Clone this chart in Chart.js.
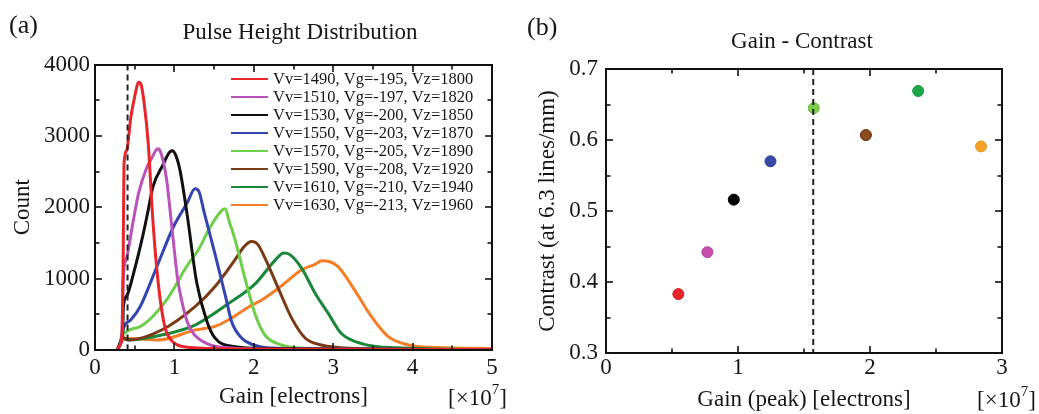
<!DOCTYPE html>
<html>
<head>
<meta charset="utf-8">
<script src="https://cdn.jsdelivr.net/npm/chart.js@4/dist/chart.umd.min.js"></script>
<style>
  html,body{margin:0;padding:0;background:#fff;}
  #wrap{position:relative;width:1039px;height:414px;overflow:hidden;}
  #pa{position:absolute;left:0;top:0;}
  #pb{position:absolute;left:520px;top:0;}
</style>
</head>
<body>
<div id="wrap">
  <canvas id="pa" width="520" height="414"></canvas>
  <canvas id="pb" width="519" height="414"></canvas>
</div>
<script>
// ---- (a) pulse height distribution, gain in units of 1e7 electrons ----
const runLabels=['Vv=1490, Vg=-195, Vz=1800','Vv=1510, Vg=-197, Vz=1820','Vv=1530, Vg=-200, Vz=1850','Vv=1550, Vg=-203, Vz=1870',
  'Vv=1570, Vg=-205, Vz=1890','Vv=1590, Vg=-208, Vz=1920','Vv=1610, Vg=-210, Vz=1940','Vv=1630, Vg=-213, Vz=1960'];
const phd1490=[[0.28,0],[0.31,60],[0.34,200],[0.355,1300],[0.365,2600],[0.40,2800],[0.45,3250],[0.50,3550],[0.55,3750],[0.58,3720],[0.62,3450],[0.67,2900],[0.73,1800],[0.80,900],[0.88,320],[0.95,150],[1.03,75],[1.2,35],[1.5,20],[2.5,10],[5,5]];
const phd1510=[[0.28,0],[0.31,60],[0.34,250],[0.355,1000],[0.40,1300],[0.48,1800],[0.55,2200],[0.65,2550],[0.72,2700],[0.79,2820],[0.83,2760],[0.90,2400],[0.97,1700],[1.04,1000],[1.09,700],[1.16,400],[1.24,230],[1.41,90],[1.74,25],[2.5,10],[5,5]];
const phd1530=[[0.28,0],[0.31,80],[0.35,300],[0.357,600],[0.40,760],[0.48,1050],[0.61,1640],[0.67,1960],[0.73,2290],[0.84,2560],[0.97,2790],[1.02,2720],[1.07,2520],[1.16,1900],[1.28,950],[1.41,400],[1.51,170],[1.74,50],[2.2,20],[5,5]];
const phd1550=[[0.28,0],[0.31,80],[0.35,250],[0.357,300],[0.45,420],[0.57,610],[0.78,1170],[0.99,1730],[1.16,2060],[1.26,2260],[1.31,2220],[1.37,1950],[1.51,1350],[1.64,770],[1.72,400],[1.85,165],[2.0,70],[2.16,30],[3,10],[5,5]];
const phd1570=[[0.28,0],[0.31,70],[0.35,210],[0.57,330],[0.90,700],[1.16,1180],[1.30,1400],[1.45,1720],[1.60,1960],[1.64,1980],[1.69,1800],[1.76,1560],[1.89,1000],[2.02,490],[2.14,210],[2.35,70],[2.6,25],[5,5]];
const phd1590=[[0.28,0],[0.31,70],[0.35,180],[0.42,140],[0.84,280],[1.26,607],[1.51,887],[1.76,1260],[1.88,1450],[1.97,1520],[2.05,1480],[2.14,1290],[2.31,860],[2.48,440],[2.65,165],[2.85,70],[3.2,25],[5,5]];
const phd1610=[[0.28,0],[0.31,60],[0.35,160],[0.42,140],[0.84,210],[1.26,350],[1.68,650],[2.02,930],[2.27,1260],[2.38,1360],[2.45,1340],[2.6,1150],[2.77,800],[2.94,510],[3.1,235],[3.36,90],[3.8,30],[5,5]];
const phd1630=[[0.28,0],[0.31,50],[0.35,150],[0.42,160],[0.8,140],[1.26,280],[1.51,330],[1.68,420],[1.93,600],[2.1,700],[2.35,900],[2.6,1120],[2.77,1200],[2.86,1250],[2.95,1240],[3.06,1170],[3.27,840],[3.48,470],[3.69,190],[3.95,70],[4.3,35],[5,20]];
const phdCurves=[phd1490,phd1510,phd1530,phd1550,phd1570,phd1590,phd1610,phd1630];
const thresholdA=0.41;

// ---- (b) contrast vs peak gain ----
const peakGain=[0.548,0.768,0.968,1.246,1.574,1.969,2.365,2.841];
const contrast=[0.383,0.442,0.516,0.570,0.645,0.607,0.669,0.591];
const thresholdB=1.57;

const lineColors=['#e8252a','#bb52bb','#111111','#3545b0','#6ccf4a','#7a3a16','#18873a','#f57d25'];
const dotColors=['#e8262a','#c64fae','#000000','#3a48a8','#7ccc4c','#8a4a1c','#1aa848','#f6a32a'];
const dotEdges=['#d82024','#a8409a','#000000','#2f3c90','#6cbc40','#5e2e0e','#159a3e','#e8961e'];

const SERIF='"Liberation Serif","Times New Roman",serif';
const INK='#161616';

// box around the plot area with inward ticks on all four sides
function drawFrame(chart){
  const {ctx,chartArea:a}=chart;
  const x=chart.scales.x,y=chart.scales.y;
  const L=Math.round(a.left),R=Math.round(a.right),T=Math.round(a.top),B=Math.round(a.bottom);
  ctx.save();
  ctx.fillStyle='#111';
  for(const t of x.ticks){
    const px=Math.round(x.getPixelForValue(t.value)),len=t.label!==''?7:4.5;
    ctx.fillRect(px-0.8,B-len,1.6,len);
    ctx.fillRect(px-0.8,T,1.6,len);
  }
  for(const t of y.ticks){
    const py=Math.round(y.getPixelForValue(t.value)),len=t.label!==''?7:4.5;
    ctx.fillRect(L,py-0.8,len,1.6);
    ctx.fillRect(R-len,py-0.8,len,1.6);
  }
  ctx.fillRect(L-1,T-1,2,B-T+2);
  ctx.fillRect(R-1,T-1,2,B-T+2);
  ctx.fillRect(L-1,T-1,R-L+2,2);
  ctx.fillRect(L-1,B-1,R-L+2,2);
  ctx.restore();
}

const panelDecor={
  id:'panelDecor',
  afterDatasetsDraw(chart,args,o){
    const {ctx,chartArea:a}=chart;
    const cx=chart.scales.x.getPixelForValue(o.cut);
    ctx.save();
    ctx.strokeStyle='#222';ctx.lineWidth=2;ctx.setLineDash([6,4]);
    ctx.beginPath();ctx.moveTo(cx,a.top);ctx.lineTo(cx,a.bottom);ctx.stroke();
    ctx.restore();
    drawFrame(chart);
  },
  afterDraw(chart,args,o){
    const {ctx}=chart;
    ctx.save();
    ctx.fillStyle=INK;ctx.textBaseline='middle';
    ctx.font='26px '+SERIF;ctx.textAlign='left';
    ctx.fillText(o.tag,o.tagX,o.tagY);
    ctx.font='23px '+SERIF;ctx.textAlign='center';
    ctx.fillText(o.title,o.titleX,o.titleY);
    // [x10^7] multiplier under the right end of the x axis
    ctx.textAlign='left';
    let mx=o.multX;
    ctx.fillText('[×10',mx,o.multY);mx+=ctx.measureText('[×10').width;
    ctx.font='15px '+SERIF;ctx.fillText('7',mx,o.multY-9);mx+=ctx.measureText('7').width;
    ctx.font='23px '+SERIF;ctx.fillText(']',mx,o.multY);

    if(o.legend){
      ctx.font='16.5px '+SERIF;ctx.lineWidth=2.2;
      chart.data.datasets.forEach((ds,i)=>{
        const ly=o.legend.y+i*o.legend.step;
        ctx.strokeStyle=ds.borderColor;
        ctx.beginPath();ctx.moveTo(o.legend.x,ly);ctx.lineTo(o.legend.x+37,ly);ctx.stroke();
        ctx.fillStyle=INK;ctx.fillText(ds.label,o.legend.x+42,ly+1);
      });
    }
    ctx.restore();
  }
};

function axisFont(){return {family:SERIF,size:23};}
const noGrid={display:false,drawTicks:false};

new Chart(document.getElementById('pa'),{
  type:'line',
  data:{datasets:phdCurves.map((c,i)=>({
    label:runLabels[i],
    data:c.map(p=>({x:p[0],y:p[1]})),
    borderColor:lineColors[i],borderWidth:3,pointRadius:0,
    cubicInterpolationMode:'monotone',fill:false
  }))},
  options:{
    responsive:false,animation:false,
    layout:{padding:{top:64.5,right:28,left:0,bottom:0}},
    plugins:{legend:{display:false},tooltip:{enabled:false},
      panelDecor:{cut:thresholdA,tag:'(a)',tagX:9,tagY:26,title:'Pulse Height Distribution',titleX:300,titleY:33,
        multX:448,multY:399,legend:{x:231,y:79,step:18}}},
    scales:{
      x:{type:'linear',min:0,max:5,
        afterFit:s=>{s.height=64;},
        grid:noGrid,border:{display:false},
        ticks:{stepSize:0.5,autoSkip:false,maxRotation:0,padding:4,color:INK,font:axisFont(),
          callback:v=>Number.isInteger(v)?String(v):''},
        title:{display:true,text:'Gain [electrons]',color:INK,font:axisFont(),padding:{top:0,bottom:3}}},
      y:{min:0,max:4000,
        afterFit:s=>{s.width=95;},
        grid:noGrid,border:{display:false},
        ticks:{stepSize:500,autoSkip:false,padding:5,color:INK,font:axisFont(),
          callback:v=>v%1000===0?String(v):''},
        title:{display:true,text:'Count',color:INK,font:axisFont(),padding:{top:9,bottom:0}}}
    }
  },
  plugins:[panelDecor]
});

new Chart(document.getElementById('pb'),{
  type:'scatter',
  data:{datasets:[{
    label:'Contrast',
    data:peakGain.map((g,i)=>({x:g,y:contrast[i]})),
    pointRadius:5.5,pointBackgroundColor:dotColors,pointBorderColor:dotEdges,pointBorderWidth:1
  }]},
  options:{
    responsive:false,animation:false,
    layout:{padding:{top:69,right:37,left:0,bottom:0}},
    plugins:{legend:{display:false},tooltip:{enabled:false},
      panelDecor:{cut:thresholdB,tag:'(b)',tagX:7,tagY:28,title:'Gain - Contrast',titleX:282,titleY:42,
        multX:457,multY:401}},
    scales:{
      x:{type:'linear',min:0,max:3,
        afterFit:s=>{s.height=61;},
        grid:noGrid,border:{display:false},
        ticks:{stepSize:0.5,autoSkip:false,maxRotation:0,padding:1,color:INK,font:axisFont(),
          callback:v=>Number.isInteger(v)?String(v):''},
        title:{display:true,text:'Gain (peak) [electrons]',color:INK,font:axisFont(),padding:{top:0,bottom:0}}},
      y:{min:0.3,max:0.7,
        afterFit:s=>{s.width=86;},
        grid:noGrid,border:{display:false},
        ticks:{stepSize:0.05,autoSkip:false,padding:8,color:INK,font:axisFont(),
          callback:v=>Math.abs(v*10-Math.round(v*10))<1e-6?v.toFixed(1):''},
        title:{display:true,text:'Contrast (at 6.3 lines/mm)',color:INK,font:axisFont(),padding:{top:14,bottom:0}}}
    }
  },
  plugins:[panelDecor]
});
</script>
</body>
</html>
